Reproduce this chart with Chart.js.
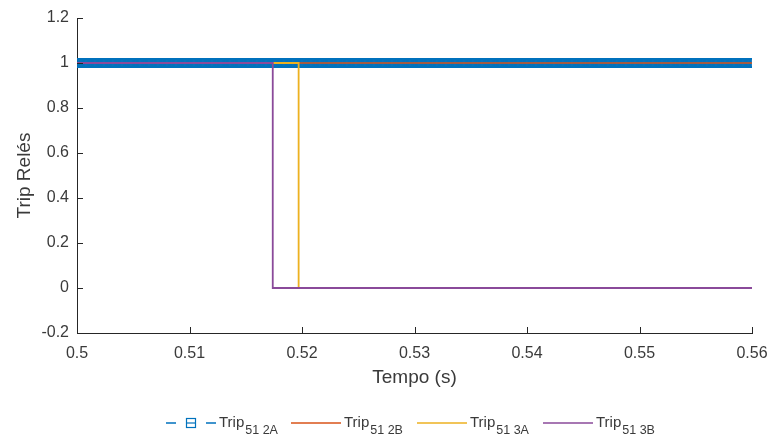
<!DOCTYPE html>
<html>
<head>
<meta charset="utf-8">
<script src="https://cdn.jsdelivr.net/npm/chart.js@4.4.1/dist/chart.umd.min.js"></script>
<style>
  html, body { margin: 0; padding: 0; background: #ffffff; }
  #wrap { width: 770px; height: 438px; position: relative; }
</style>
</head>
<body>
<div id="wrap"><canvas id="grafico" width="770" height="438"></canvas></div>
<script>
// Axis limits and tick labels
const xTicks = [0.5, 0.51, 0.52, 0.53, 0.54, 0.55, 0.56];
const yTicks = [-0.2, 0, 0.2, 0.4, 0.6, 0.8, 1, 1.2];
const xLabels = ['0.5', '0.51', '0.52', '0.53', '0.54', '0.55', '0.56'];
const yLabels = ['-0.2', '0', '0.2', '0.4', '0.6', '0.8', '1', '1.2'];

// Series names: main text + subscript
const nomes = [['Trip', '51 2A'], ['Trip', '51 2B'], ['Trip', '51 3A'], ['Trip', '51 3B']];
const cores = ['#0072BD', '#D95319', '#EDB120', '#8A4A9A'];

// Relay 51 2A: sampled trip signal (one marker per simulation step, 0.1 ms)
const passo = 0.0001;
const tempo2A = Array.from({ length: 601 }, (_, i) => +(0.5 + i * passo).toFixed(4));
const trip2A = tempo2A.map(() => 1);

// Relay 51 2B: stays at 1
const tempo2B = [0.5, 0.56];
const trip2B = [1, 1];

// Relay 51 3A: drops at ~0.5197 s
const tempo3A = [0.5, 0.5197, 0.5197, 0.56];
const trip3A = [1, 1, 0, 0];

// Relay 51 3B: drops at ~0.5174 s
const tempo3B = [0.5, 0.5174, 0.5174, 0.56];
const trip3B = [1, 1, 0, 0];

const pares = (t, v) => t.map((x, i) => ({ x: x, y: v[i] }));

const corTexto = '#3a3a3a';
const corEixo = '#262626';
const fonte = 'Liberation Sans, Arial, Helvetica, sans-serif';

// Inward tick marks
const marcasInternas = {
  id: 'marcasInternas',
  afterDatasetsDraw(chart) {
    const { ctx, chartArea: a, scales } = chart;
    ctx.save();
    ctx.strokeStyle = corEixo;
    ctx.lineWidth = 1;
    ctx.beginPath();
    xTicks.forEach(v => {
      const px = Math.round(scales.x.getPixelForValue(v)) + 0.5;
      ctx.moveTo(px, a.bottom);
      ctx.lineTo(px, a.bottom - 6);
    });
    yTicks.forEach(v => {
      const py = Math.round(scales.y.getPixelForValue(v)) + 0.5;
      ctx.moveTo(a.left, py);
      ctx.lineTo(a.left + 6, py);
    });
    ctx.stroke();
    ctx.restore();
  }
};

// Legend with subscripted names, drawn under the axes
const legendaSub = {
  id: 'legendaSub',
  afterDraw(chart) {
    const ctx = chart.ctx;
    const yLinha = 423;
    const inicio = [166, 291, 417, 543];
    const comp = 50;
    ctx.save();
    inicio.forEach((x0, i) => {
      const x1 = x0 + comp;
      ctx.strokeStyle = cores[i];
      ctx.lineWidth = 1.6;
      if (i === 0) {
        ctx.beginPath();
        ctx.moveTo(x0, yLinha); ctx.lineTo(x0 + 10, yLinha);
        ctx.moveTo(x1 - 10, yLinha); ctx.lineTo(x1, yLinha);
        ctx.stroke();
        const cx = x0 + comp / 2;
        ctx.lineWidth = 1.2;
        ctx.strokeRect(cx - 4.5, yLinha - 4.5, 9, 9);
        ctx.beginPath();
        ctx.moveTo(cx - 4.5, yLinha); ctx.lineTo(cx + 4.5, yLinha);
        ctx.stroke();
      } else {
        ctx.beginPath();
        ctx.moveTo(x0, yLinha); ctx.lineTo(x1, yLinha);
        ctx.stroke();
      }
      const tx = x1 + 3;
      ctx.fillStyle = corTexto;
      ctx.textBaseline = 'alphabetic';
      ctx.textAlign = 'left';
      ctx.font = '15px ' + fonte;
      ctx.fillText(nomes[i][0], tx, yLinha + 4);
      const w = ctx.measureText(nomes[i][0]).width;
      ctx.font = '12.5px ' + fonte;
      ctx.fillText(nomes[i][1], tx + w + 1, yLinha + 11);
    });
    ctx.restore();
  }
};

new Chart(document.getElementById('grafico'), {
  type: 'line',
  data: {
    datasets: [
      {
        label: nomes[0].join(' '),
        data: pares(tempo2A, trip2A),
        borderColor: cores[0],
        borderWidth: 1.5,
        borderDash: [10, 5],
        pointStyle: 'rect',
        pointRadius: 6,
        pointBorderWidth: 1.2,
        pointBorderColor: cores[0],
        pointBackgroundColor: 'rgba(255,255,255,0)',
        order: 4
      },
      {
        label: nomes[1].join(' '),
        data: pares(tempo2B, trip2B),
        borderColor: cores[1],
        borderWidth: 1.6,
        pointRadius: 0,
        order: 3
      },
      {
        label: nomes[2].join(' '),
        data: pares(tempo3A, trip3A),
        borderColor: cores[2],
        borderWidth: 1.8,
        pointRadius: 0,
        order: 2
      },
      {
        label: nomes[3].join(' '),
        data: pares(tempo3B, trip3B),
        borderColor: cores[3],
        borderWidth: 1.8,
        pointRadius: 0,
        order: 1
      }
    ]
  },
  options: {
    responsive: false,
    animation: false,
    devicePixelRatio: 1,
    parsing: false,
    normalized: true,
    layout: { padding: { top: 18, right: 18, bottom: 45, left: 0 } },
    elements: { line: { tension: 0, fill: false } },
    plugins: {
      legend: { display: false },
      tooltip: { enabled: false }
    },
    scales: {
      x: {
        type: 'linear',
        position: 'bottom',
        min: 0.5,
        max: 0.56,
        afterBuildTicks: s => { s.ticks = xTicks.map(v => ({ value: v })); },
        afterFit: s => { s.height = 60; s.paddingLeft = 0; s.paddingRight = 0; },
        grid: { display: false, drawTicks: false },
        border: { display: true, color: corEixo, width: 1 },
        ticks: {
          padding: 11,
          color: corTexto,
          font: { family: fonte, size: 16 },
          maxRotation: 0,
          autoSkip: false,
          callback: v => xLabels[xTicks.findIndex(t => Math.abs(t - v) < 1e-9)]
        },
        title: {
          display: true,
          text: 'Tempo (s)',
          color: corTexto,
          font: { family: fonte, size: 19 },
          padding: { top: 0, bottom: 4 }
        }
      },
      y: {
        type: 'linear',
        min: -0.2,
        max: 1.2,
        afterBuildTicks: s => { s.ticks = yTicks.map(v => ({ value: v })); },
        afterFit: s => { s.width = 77; s.paddingTop = 0; s.paddingBottom = 0; },
        grid: { display: false, drawTicks: false },
        border: { display: true, color: corEixo, width: 1 },
        ticks: {
          padding: 8,
          color: corTexto,
          font: { family: fonte, size: 16 },
          autoSkip: false,
          callback: v => yLabels[yTicks.findIndex(t => Math.abs(t - v) < 1e-9)]
        },
        title: {
          display: true,
          text: 'Trip Relés',
          color: corTexto,
          font: { family: fonte, size: 19 },
          padding: { top: 13, bottom: 0 }
        }
      }
    }
  },
  plugins: [marcasInternas, legendaSub]
});
</script>
</body>
</html>
